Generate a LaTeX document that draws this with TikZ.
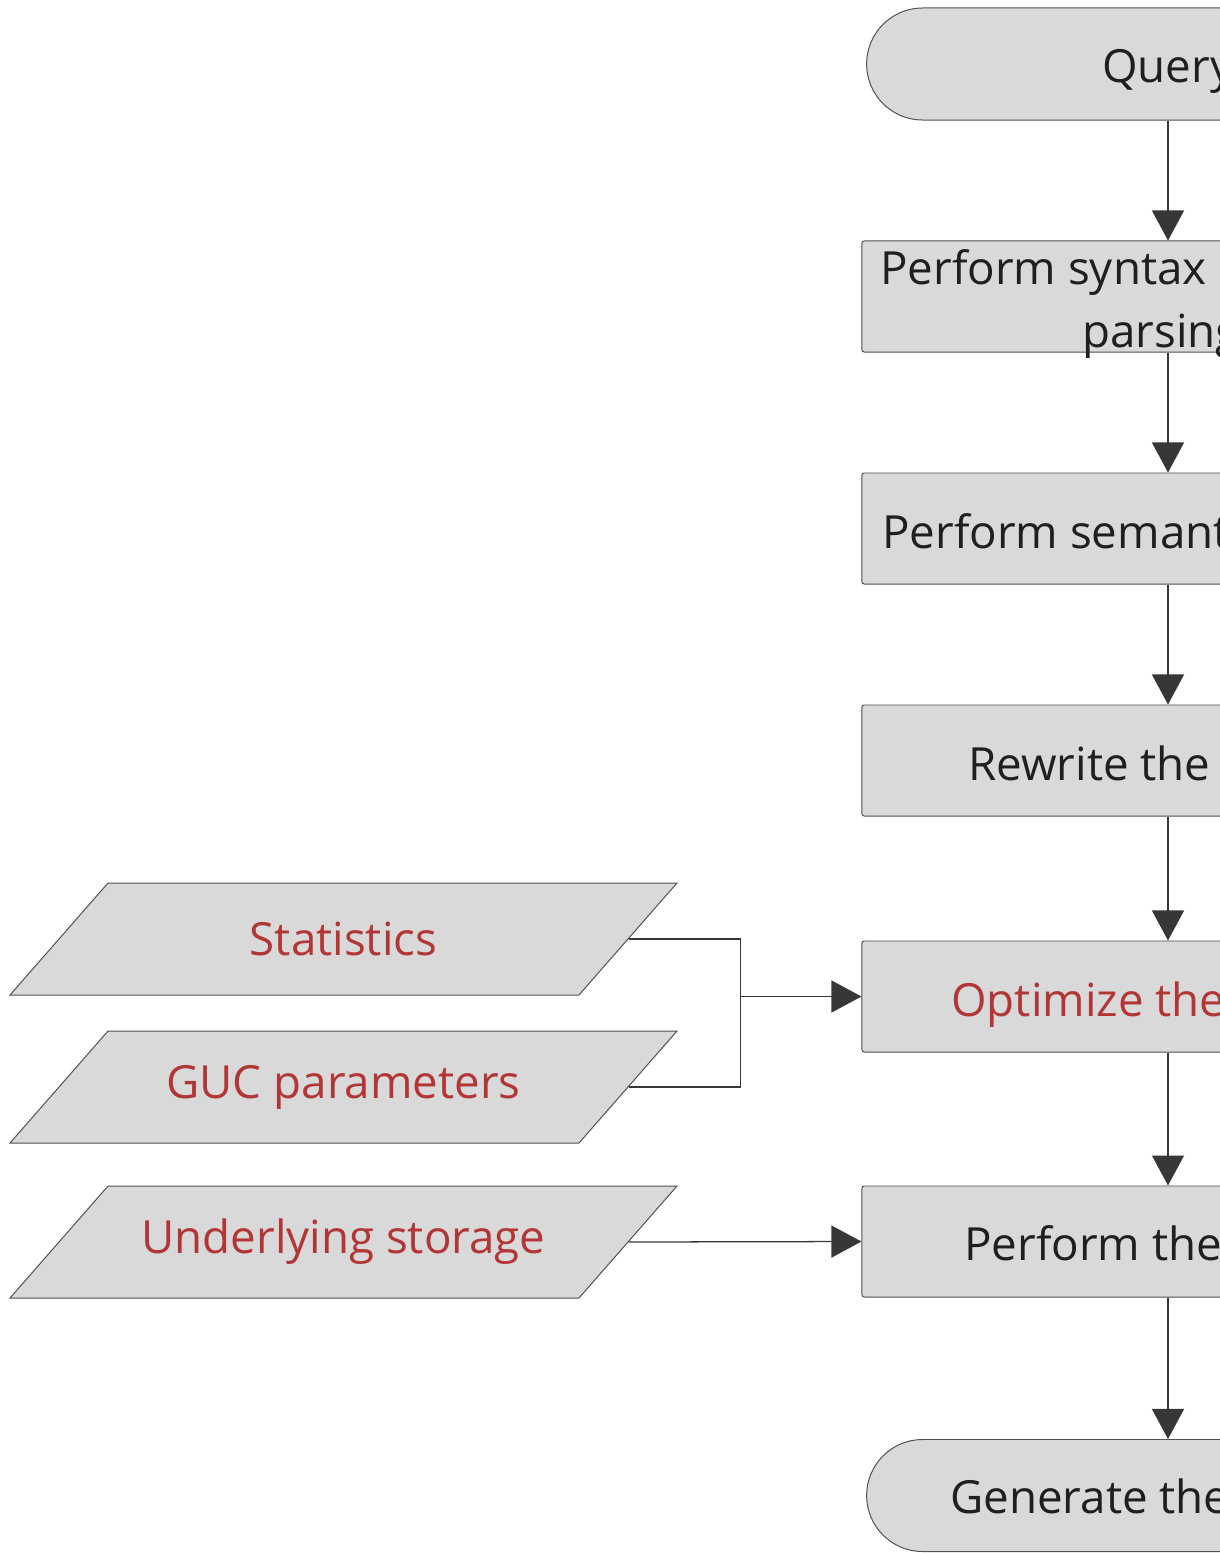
\documentclass[tikz,border=0pt]{standalone}
\usepackage{fontspec}
\setmainfont{Open Sans}
\usetikzlibrary{shapes.misc,arrows.meta}
\definecolor{boxgray}{RGB}{217,217,217}
\definecolor{edgegray}{RGB}{80,80,80}
\definecolor{arrowgray}{RGB}{55,55,55}
\definecolor{hired}{RGB}{178,54,54}

\begin{document}
\begin{tikzpicture}[x=0.025cm,y=-0.025cm,
    txt/.style={font=\fontsize{32.5}{38}\selectfont,text=black!88,inner sep=0pt},
    redtxt/.style={txt,text=hired},
    proc/.style={rectangle,rounded corners=0.06cm,draw=edgegray,line width=0.7pt,fill=boxgray,minimum width=15.3cm,minimum height=2.775cm},
    term/.style={rounded rectangle,draw=edgegray,line width=0.7pt,fill=boxgray,minimum width=15.3cm,minimum height=2.8cm},
    dataface/.style={draw=edgegray,line width=0.7pt,fill=boxgray},
    data/.style={rectangle,minimum width=14.25cm,minimum height=2.8cm,inner sep=0pt,redtxt},
    flow/.style={draw=arrowgray,line width=0.9pt,-{Triangle[length=0.75cm,width=0.8cm]}},
    link/.style={draw=arrowgray,line width=0.9pt}]
      \useasboundingbox (0,0) rectangle (1220,1553);
      \clip (0,0) rectangle (1220,1553);

      \node[term] (query) at (1168,64) {};
      \node[proc] (syntax) at (1168,296.5) {};
      \node[proc] (semantic) at (1168,528.5) {};
      \node[proc] (rewrite) at (1168,760.5) {};
      \node[proc] (optimize) at (1168,996.5) {};
      \node[proc] (execute) at (1168,1241.5) {};
      \node[term] (result) at (1168,1495.5) {};

      \node[txt,anchor=base west] (query-t) at (1102,82) {Query};
      \node[txt,anchor=base west] (syntax-t) at (880,284) {Perform syntax};
      \node[txt,anchor=base west] (syntax-t2) at (1082,347) {parsing};
      \node[txt,anchor=base west] (semantic-t) at (882,548) {Perform semant};
      \node[txt,anchor=base west] (rewrite-t) at (968,780) {Rewrite the};
      \node[redtxt,anchor=base west] (optimize-t) at (951,1016) {Optimize the};
      \node[txt,anchor=base west] (execute-t) at (964,1260) {Perform the};
      \node[txt,anchor=base west] (result-t) at (950,1513) {Generate the};

      \foreach \nm/\yy/\lbl in {stats/939/Statistics,guc/1087/GUC parameters,storage/1242/Underlying storage}{
        \draw[dataface] (343.5,\yy) ++(-333.5,56) -- ++(98,-112) -- ++(569,0) -- ++(-98,112) -- cycle;
        \node[data] (\nm) at (343.5,\yy) {\lbl};
      }

      \draw[flow] (query) -- (syntax);
      \draw[flow] (syntax) -- (semantic);
      \draw[flow] (semantic) -- (rewrite);
      \draw[flow] (rewrite) -- (optimize);
      \draw[flow] (optimize) -- (execute);
      \draw[flow] (execute) -- (result);

      \path (optimize.west) ++(-121,0) coordinate (join);
      \draw[link] (stats.east) -| (join) |- (guc.east);
      \draw[flow] (join) -- (optimize.west);
      \draw[flow] (storage.east) -- (execute.west);
\end{tikzpicture}
\end{document}
